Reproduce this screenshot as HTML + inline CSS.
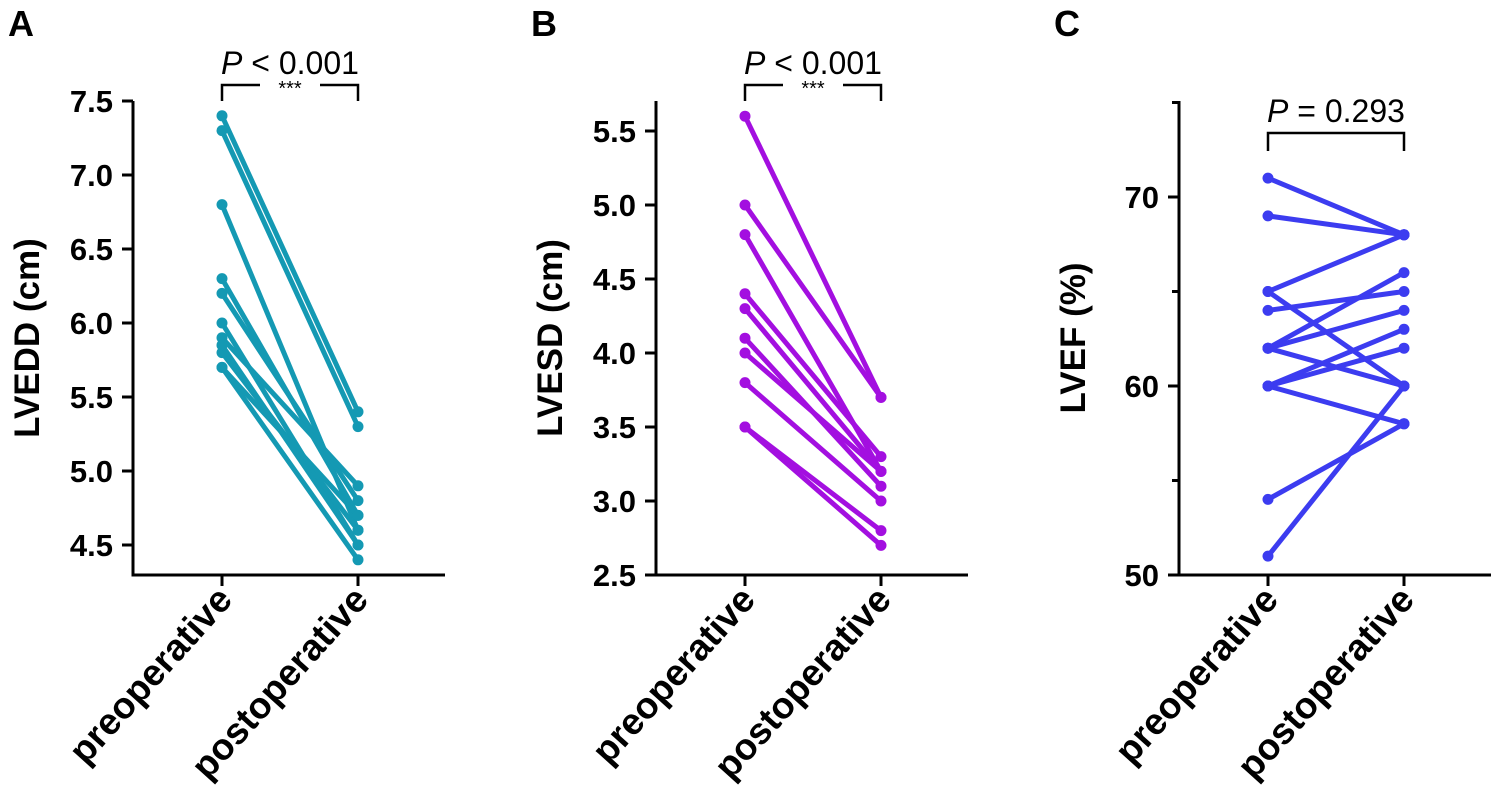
<!DOCTYPE html>
<html><head><meta charset="utf-8"><style>
body{margin:0;background:#fff}
svg text{font-family:"Liberation Sans",sans-serif}
</style></head><body>
<svg id="fig" width="1500" height="791" viewBox="0 0 1500 791" xmlns="http://www.w3.org/2000/svg"></svg>
<script>
const categories=["preoperative","postoperative"];
const preA=[7.4,7.3,6.8,6.3,6.2,6.0,5.9,5.8,5.7,5.7,5.85];
const postA=[5.4,5.3,4.6,4.7,4.8,4.5,4.9,4.6,4.4,4.7,4.5];
const preB=[5.6,5.0,4.8,4.4,4.3,4.1,4.0,3.8,3.5,3.5];
const postB=[3.7,3.7,3.2,3.3,3.2,3.1,3.2,3.0,2.8,2.7];
const preC=[71,69,65,65,64,62,62,62,60,60,60,54,51];
const postC=[68,68,68,60,65,66,64,60,63,62,58,58,60];
const ticksA=["4.5","5.0","5.5","6.0","6.5","7.0","7.5"];
const ticksB=["2.5","3.0","3.5","4.0","4.5","5.0","5.5"];
const ticksC=["50","60","70"];
const NS="http://www.w3.org/2000/svg";
const svg=document.getElementById('fig');
function mk(tag,attrs,parent){const e=document.createElementNS(NS,tag);for(const k in attrs)e.setAttribute(k,attrs[k]);(parent||svg).appendChild(e);return e;}
function panel(o){
  const g=mk('g',{});
  
  
  const y=v=>o.y0+(v-o.v0)*(o.y1-o.y0)/(o.v1-o.v0);
  const xs=[o.ax+89,o.ax+225];
  const ya=mk('line',{x1:o.ax,y1:o.top,x2:o.ax,y2:575,stroke:'#000','stroke-width':3},g);
  
  const xa=mk('line',{x1:o.ax-1.5,y1:575,x2:o.ax+312,y2:575,stroke:'#000','stroke-width':3},g);
  
  o.ticks.forEach(t=>{const v=parseFloat(t),yy=y(v);
    mk('line',{x1:o.ax-11,y1:yy,x2:o.ax,y2:yy,stroke:'#000','stroke-width':3},g);
    const tx=mk('text',{x:o.ax-20,y:yy+11,'text-anchor':'end','font-size':31,'font-weight':'bold'},g);
    tx.textContent=t;});
  (o.minor||[]).forEach(v=>{const yy=y(v);mk('line',{x1:o.ax-7,y1:yy,x2:o.ax,y2:yy,stroke:'#000','stroke-width':3},g);});
  categories.forEach((c,i)=>{
    mk('line',{x1:xs[i],y1:575,x2:xs[i],y2:586,stroke:'#000','stroke-width':3},g);
    const tx=mk('text',{x:0,y:0,'text-anchor':'end','font-size':37,'font-weight':'bold',transform:`translate(${xs[i]+12},${601}) rotate(-48)`},g);
    tx.textContent=c;});
  const yt=mk('text',{x:0,y:0,'text-anchor':'middle','font-size':35,'font-weight':'bold',transform:`translate(${o.ax-94},${o.ytY}) rotate(-90)`},g);
  yt.textContent=o.ytitle;
  const lt=mk('text',{x:o.ax-125,y:36,'font-size':36,'font-weight':'bold'},g);
  lt.textContent=o.letter;
  o.pre.forEach((p,i)=>{
    const l=mk('line',{x1:xs[0],y1:y(p),x2:xs[1],y2:y(o.post[i]),stroke:o.color,'stroke-width':5},g);
    
    const a=mk('circle',{cx:xs[0],cy:y(p),r:5.5,fill:o.color},g);
    
    const b=mk('circle',{cx:xs[1],cy:y(o.post[i]),r:5.5,fill:o.color},g);
    
  });
  const by=o.by;
  if(o.stars){
    const mid=(xs[0]+xs[1])/2;
    mk('path',{d:`M${xs[0]},${by+16}V${by}H${mid-30}M${mid+30},${by}H${xs[1]}V${by+16}`,fill:'none',stroke:'#000','stroke-width':2.5},g);
    const st=mk('text',{x:mid,y:by+10,'text-anchor':'middle','font-size':20},g);st.textContent='***';
    
  } else {
    mk('path',{d:`M${xs[0]},${by+18}V${by}H${xs[1]}V${by+18}`,fill:'none',stroke:'#000','stroke-width':2.5},g);
  }
  const pt=mk('text',{x:(xs[0]+xs[1])/2,y:by-11,'text-anchor':'middle','font-size':32},g);
  pt.innerHTML='<tspan font-style="italic">P</tspan> '+o.ptext;
  
}
panel({name:'panel-a-lvedd',ax:133,top:101,v0:4.5,y0:545,v1:7.5,y1:101,ticks:ticksA,pre:preA,post:postA,color:'#1499b3',ytitle:'LVEDD (cm)',ytY:338,letter:'A',by:85,stars:true,ptext:'&lt; 0.001'});
panel({name:'panel-b-lvesd',ax:656,top:101,v0:2.5,y0:575,v1:5.5,y1:131,ticks:ticksB,pre:preB,post:postB,color:'#a30fe0',ytitle:'LVESD (cm)',ytY:338,letter:'B',by:85,stars:true,ptext:'&lt; 0.001'});
panel({name:'panel-c-lvef',ax:1179,top:101,v0:50,y0:575,v1:70,y1:197,ticks:ticksC,minor:[55,65,75],pre:preC,post:postC,color:'#3c3cf0',ytitle:'LVEF (%)',ytY:338,letter:'C',by:133,stars:false,ptext:'= 0.293'});
</script>
</body></html>
